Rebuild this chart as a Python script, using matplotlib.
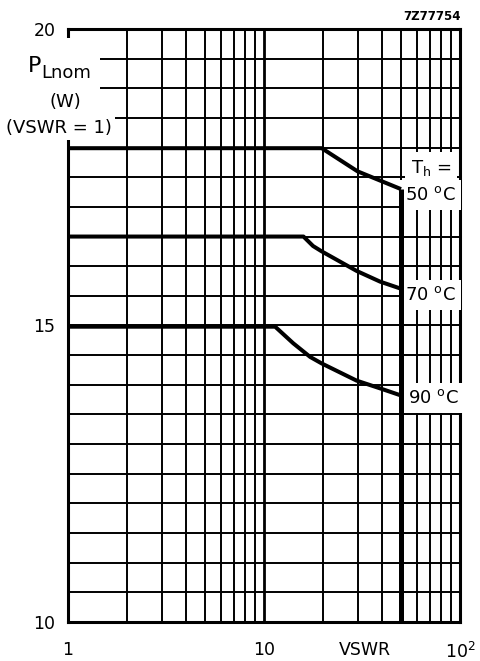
import numpy as np
import matplotlib
matplotlib.use("Agg")
import matplotlib.pyplot as plt
from matplotlib.patches import Rectangle
from matplotlib.ticker import LogLocator, MultipleLocator, NullFormatter

# derating curves
vswr_50 = [1, 19.7, 30.0, 50]
power_50 = [17.99, 17.99, 17.60, 17.30]

vswr_70 = [1, 15.9, 17.8, 19.7, 29.7, 39.1, 50]
power_70 = [16.50, 16.50, 16.34, 16.25, 15.92, 15.74, 15.62]

vswr_90 = [1, 11.4, 14.1, 17.2, 19.7, 29.7, 39.1, 50]
power_90 = [14.98, 14.98, 14.70, 14.47, 14.36, 14.07, 13.94, 13.82]

vswr_max = 50
temps = ["50", "70", "90"]

plt.rcParams['font.family'] = ['DejaVu Sans']
plt.rcParams['mathtext.fontset'] = 'dejavusans'

W, H = 480, 661
def fig_xy(px, py):
    # pixel position (from top-left) -> figure fraction
    return px / W, 1 - py / H

fig = plt.figure(figsize=(W / 100, H / 100), dpi=100)
ax = fig.add_axes([68 / W, 1 - 622 / H, 392 / W, 593 / H])

ax.set_xscale('log')
ax.set_xlim(1, 100)
ax.set_ylim(10, 20)

ax.xaxis.set_major_locator(LogLocator(base=10, numticks=5))
ax.xaxis.set_minor_locator(LogLocator(base=10, subs=np.arange(2, 10), numticks=20))
ax.xaxis.set_minor_formatter(NullFormatter())
ax.yaxis.set_major_locator(MultipleLocator(5))
ax.yaxis.set_minor_locator(MultipleLocator(0.5))

ax.grid(which='minor', color='black', lw=1.4)
ax.grid(which='major', axis='y', color='black', lw=1.4)
ax.grid(which='major', axis='x', color='black', lw=2.0)
ax.set_axisbelow(True)
ax.tick_params(which='both', length=0)
ax.set_xticks([1, 10, 100])
ax.set_xticklabels(['1', '10', '10$^2$'], fontsize=12.5)
ax.tick_params(axis='x', pad=14)
ax.set_yticks([10, 15, 20])
ax.set_yticklabels(['10', '15', '20'], fontsize=12.5)
ax.tick_params(axis='y', pad=9)

for s in ax.spines.values():
    s.set_linewidth(2.2)

# VSWR limit: heavy line from the 50 degC curve end down to the axis
ax.vlines(vswr_max, 10, power_50[-1], color='black', lw=3.6, zorder=5)

for x, y in [(vswr_50, power_50), (vswr_70, power_70), (vswr_90, power_90)]:
    ax.plot(x, y, color='black', lw=2.9, solid_capstyle='butt',
            solid_joinstyle='round', zorder=5)

ft = fig.transFigure

# blank out the grid behind the y caption
x0, y0 = fig_xy(0, 140)
x1, y1 = fig_xy(100, 38)
ax.add_patch(Rectangle((x0, y0), x1 - x0, y1 - y0, transform=ft, clip_on=False,
                       facecolor='white', edgecolor='none', zorder=3))

box = dict(facecolor='white', edgecolor='none', pad=2)
ax.text(*fig_xy(28, 72), 'P', transform=ft, fontsize=16, ha='left', va='baseline', zorder=4)
ax.text(*fig_xy(41, 78), 'Lnom', transform=ft, fontsize=13, ha='left', va='baseline', zorder=4)
ax.text(*fig_xy(65, 107), '(W)', transform=ft, fontsize=13, ha='center', va='baseline', zorder=4)
ax.text(*fig_xy(6, 133), '(VSWR = 1)', transform=ft, fontsize=13, ha='left', va='baseline',
        bbox=box, zorder=4)

# temperature labels on the right (white boxes hide the grid, curves stay on top)
rbox = dict(facecolor='white', edgecolor='none', pad=4)
ax.text(*fig_xy(411, 173), 'T$_\\mathrm{h}$ =', transform=ft, fontsize=13, ha='left',
        va='baseline', bbox=rbox, zorder=4)
for t, py, px in zip(temps, [200, 300, 403], [405, 405, 408]):
    ax.text(*fig_xy(px, py), t + ' $^\\mathrm{o}$C', transform=ft, fontsize=13, ha='left',
            va='baseline', bbox=rbox, zorder=4)

fig.text(*fig_xy(365, 641), 'VSWR', fontsize=12.5, ha='center', va='top')
fig.text(*fig_xy(461, 20), '7Z77754', fontsize=8.5, fontweight='bold',
         ha='right', va='baseline')

fig.savefig('out.png', dpi=100, facecolor='white')
